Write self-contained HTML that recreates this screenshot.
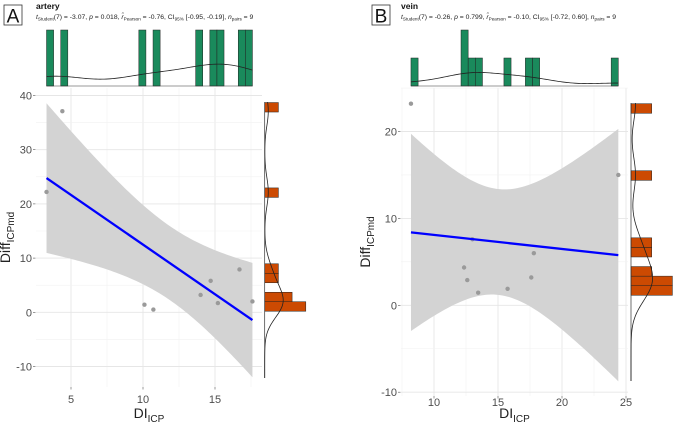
<!DOCTYPE html>
<html><head><meta charset="utf-8"><style>
body{margin:0;background:#fff;}
svg{display:block;font-family:"Liberation Sans",sans-serif;}
</style></head><body>
<svg id="chart" width="675" height="423" viewBox="0 0 675 423"></svg>
<script>
// ---- Panel A (artery) data ----
const arteryDI = [3.3, 4.4, 10.1, 10.72, 14.0, 14.7, 15.2, 16.7, 17.6];
const arteryDiff = [22.2, 37.1, 1.4, 0.5, 3.2, 5.8, 1.7, 7.9, 2.0];
const arteryXTicks = [5, 10, 15];
const arteryYTicks = [-10, 0, 10, 20, 30, 40];
const arteryTitle = "artery";
const arteryStats = ["-3.07", "0.018", "-0.76", "[-0.95, -0.19]", "9"];
// ---- Panel B (vein) data ----
const veinDI = [8.2, 24.4, 12.35, 12.6, 13.0, 13.45, 15.75, 17.6, 17.8];
const veinDiff = [23.2, 15.0, 4.35, 2.9, 7.6, 1.45, 1.9, 3.2, 6.0];
const veinXTicks = [10, 15, 20, 25];
const veinYTicks = [-10, 0, 10, 20];
const veinTitle = "vein";
const veinStats = ["-0.26", "0.799", "-0.10", "[-0.72, 0.60]", "9"];

const NS = "http://www.w3.org/2000/svg";
const svg = document.getElementById("chart");
function mk(tag, attrs, parent, name, inter) {
  const e = document.createElementNS(NS, tag);
  for (const k in attrs) e.setAttribute(k, attrs[k]);
  
  
  (parent || svg).appendChild(e);
  return e;
}
function kde(data, x) {
  const n = data.length, m = data.reduce((a, b) => a + b, 0) / n;
  const sd = Math.sqrt(data.reduce((a, b) => a + (b - m) ** 2, 0) / (n - 1));
  const s = data.slice().sort((a, b) => a - b);
  const q = p => { const h = (n - 1) * p, l = Math.floor(h); return s[l] + (h - l) * ((s[l + 1] ?? s[l]) - s[l]); };
  const iqr = q(0.75) - q(0.25);
  const bw = 0.9 * Math.min(sd, iqr / 1.34) * Math.pow(n, -0.2);
  let d = 0; for (const v of data) d += Math.exp(-0.5 * ((x - v) / bw) ** 2);
  return d / (n * bw * Math.sqrt(2 * Math.PI));
}
function binCounts(vals, orig, w, nb) {
  const c = {};
  for (const v of vals) { let k = Math.floor((v - orig) / w + 1e-9); if (k > nb - 1) k = nb - 1; if (k < 0) k = 0; c[k] = (c[k] || 0) + 1; }
  return c;
}
function panel(cfg) {
  const g = mk('g', {}, svg, cfg.name + '-panel', false);
  const X = v => cfg.x0px + (v - cfg.x0) * cfg.xs;
  const Y = v => cfg.y0px - v * cfg.ys;
  const L = cfg.left, R = cfg.right, T = cfg.top, B = cfg.bottom;
  const xv = cfg.xd, yv = cfg.yd, n = xv.length;
  const xinv = p => cfg.x0 + (p - cfg.x0px) / cfg.xs, yinv = p => (cfg.y0px - p) / cfg.ys;
  const xmin = xinv(L), xmax = xinv(R), ymin = yinv(B), ymax = yinv(T);
  for (let v = Math.ceil(xmin / 2.5) * 2.5; v <= xmax; v += 2.5) {
    const maj = Math.abs(v / 5 - Math.round(v / 5)) < 1e-6;
    mk('line', {x1: X(v), x2: X(v), y1: T, y2: B, stroke: maj ? '#e6e6e6' : '#f2f2f2', 'stroke-width': maj ? 0.9 : 0.6}, g, 'x-gridline', false);
  }
  for (let v = Math.ceil(ymin / 5) * 5; v <= ymax; v += 5) {
    const maj = Math.abs(v / 10 - Math.round(v / 10)) < 1e-6;
    mk('line', {x1: L, x2: R, y1: Y(v), y2: Y(v), stroke: maj ? '#e6e6e6' : '#f2f2f2', 'stroke-width': maj ? 0.9 : 0.6}, g, 'y-gridline', false);
  }
  const mx = xv.reduce((a, b) => a + b, 0) / n, my = yv.reduce((a, b) => a + b, 0) / n;
  let sxx = 0, sxy = 0; for (let i = 0; i < n; i++) { sxx += (xv[i] - mx) ** 2; sxy += (xv[i] - mx) * (yv[i] - my); }
  const b1 = sxy / sxx, b0 = my - b1 * mx;
  let sse = 0; for (let i = 0; i < n; i++) sse += (yv[i] - b0 - b1 * xv[i]) ** 2;
  const s = Math.sqrt(sse / (n - 2)), t = 2.3646;
  const lo = Math.min(...xv), hi = Math.max(...xv);
  let up = [], dn = [];
  for (let k = 0; k <= 80; k++) {
    const x = lo + (hi - lo) * k / 80, f = b0 + b1 * x, se = s * Math.sqrt(1 / n + (x - mx) ** 2 / sxx);
    up.push(X(x) + ',' + Y(f + t * se)); dn.unshift(X(x) + ',' + Y(f - t * se));
  }
  mk('polygon', {points: up.concat(dn).join(' '), fill: '#d3d3d3'}, g, 'confidence-band', false);
  for (let i = 0; i < n; i++) mk('circle', {cx: X(xv[i]), cy: Y(yv[i]), r: 2.2, fill: '#9a9a9a'}, g, 'data-point', true);
  mk('line', {x1: X(lo), y1: Y(b0 + b1 * lo), x2: X(hi), y2: Y(b0 + b1 * hi), stroke: '#0000ff', 'stroke-width': 2.3}, g, 'regression-line', false);
  for (const v of cfg.xt) {
    mk('line', {x1: X(v), x2: X(v), y1: B, y2: B + 2.5, stroke: '#555', 'stroke-width': 0.6}, g, 'x-tick', false);
    const tx = mk('text', {x: X(v), y: cfg.xly, 'font-size': 11, fill: '#4d4d4d', 'text-anchor': 'middle'}, g, 'x-tick-label', false); tx.textContent = v;
  }
  for (const v of cfg.yt) {
    mk('line', {x1: L - 3, x2: L - 0.5, y1: Y(v), y2: Y(v), stroke: '#555', 'stroke-width': 0.6}, g, 'y-tick', false);
    const ty = mk('text', {x: L - 4, y: Y(v) + 4, 'font-size': 11, fill: '#4d4d4d', 'text-anchor': 'end'}, g, 'y-tick-label', false); ty.textContent = v;
  }
  const xt = mk('text', {x: (L + R) / 2, y: 418, 'font-size': 14, fill: '#222', 'text-anchor': 'middle'}, g, 'x-axis-title', false);
  xt.innerHTML = 'DI<tspan font-size="10" dy="4">ICP</tspan>';
  const yt = mk('text', {x: 0, y: 0, 'font-size': 14, fill: '#222', 'text-anchor': 'middle', transform: `translate(${cfg.ytx},${(T + B) / 2}) rotate(-90)`}, g, 'y-axis-title', false);
  yt.innerHTML = 'Diff<tspan font-size="10" dy="4">ICPmd</tspan>';
  // top marginal histogram
  const tb = 86, th = 56, nbx = 29;
  const xbw = (hi - lo) / nbx;
  const cnt = binCounts(xv, lo, xbw, nbx);
  const maxc = Math.max(...Object.values(cnt));
  const dmax = maxc / (n * xbw);
  for (const k in cnt) {
    const h = cnt[k] / maxc * th;
    mk('rect', {x: X(lo + k * xbw), y: tb - h, width: xbw * cfg.xs, height: h, fill: '#1a8a5c', stroke: '#222', 'stroke-width': 0.5}, g, 'top-histogram-bar', false);
  }
  mk('line', {x1: X(lo), x2: X(hi), y1: tb, y2: tb, stroke: '#333', 'stroke-width': 0.6}, g, 'top-marginal-baseline', false);
  let pts = [];
  for (let k = 0; k <= 100; k++) { const x = lo + (hi - lo) * k / 100; pts.push(X(x) + ',' + (tb - kde(xv, x) / dmax * th)); }
  mk('polyline', {points: pts.join(' '), fill: 'none', stroke: '#222', 'stroke-width': 0.8}, g, 'top-density-curve', false);
  // right marginal histogram
  const rb = cfg.rbase, rw = cfg.rcount1;
  const rc = binCounts(yv, cfg.yorig, cfg.ybw, cfg.ynb);
  const rmax = Math.max(...Object.values(rc));
  for (const k in rc) {
    const y1 = Y(cfg.yorig + (+k + 1) * cfg.ybw), y2 = Y(cfg.yorig + (+k) * cfg.ybw);
    mk('rect', {x: rb, y: y1, width: rc[k] * rw, height: y2 - y1, fill: '#cc4a02', stroke: '#222', 'stroke-width': 0.5}, g, 'right-histogram-bar', false);
  }
  mk('line', {x1: rb, x2: rb, y1: cfg.rtop, y2: cfg.rbot, stroke: '#333', 'stroke-width': 0.7}, g, 'right-marginal-baseline', false);
  const rdmax = rmax / (n * cfg.ybw);
  pts = [];
  for (let k = 0; k <= 120; k++) { const py = cfg.rtop + (cfg.rbot - cfg.rtop) * k / 120, y = yinv(py); pts.push((rb + kde(yv, y) / rdmax * rmax * rw) + ',' + py); }
  mk('polyline', {points: pts.join(' '), fill: 'none', stroke: '#222', 'stroke-width': 0.8}, g, 'right-density-curve', false);
  // header
  mk('rect', {x: cfg.lbx, y: 5, width: 18, height: 20, fill: '#fff', stroke: '#333', 'stroke-width': 0.8}, g, 'panel-letter-box', false);
  const lt = mk('text', {x: cfg.lbx + 9, y: 22.5, 'font-size': 19, 'text-anchor': 'middle', fill: '#111'}, g, 'panel-letter', false); lt.textContent = cfg.letter;
  const tt = mk('text', {x: cfg.tx, y: 9, 'font-size': 8.5, 'font-weight': 'bold', fill: '#111'}, g, 'panel-title', false); tt.textContent = cfg.title;
  const st = cfg.stats;
  const sub = mk('text', {x: cfg.tx, y: 19, 'font-size': 6.8, fill: '#222'}, g, 'panel-subtitle', false);
  sub.innerHTML = `<tspan font-style="italic">t</tspan><tspan font-size="4.6" dy="1.5">Student</tspan><tspan dy="-1.5">(7) = ${st[0]}, </tspan><tspan font-style="italic">p</tspan><tspan> = ${st[1]}, </tspan><tspan font-style="italic">r̂</tspan><tspan font-size="4.6" dy="1.5">Pearson</tspan><tspan dy="-1.5"> = ${st[2]}, CI</tspan><tspan font-size="4.6" dy="1.5">95%</tspan><tspan dy="-1.5"> ${st[3]}, </tspan><tspan font-style="italic">n</tspan><tspan font-size="4.6" dy="1.5">pairs</tspan><tspan dy="-1.5"> = ${st[4]}</tspan>`;
}
panel({name: 'artery', letter: 'A', title: arteryTitle, stats: arteryStats, xd: arteryDI, yd: arteryDiff, xt: arteryXTicks, yt: arteryYTicks,
  x0: 5, x0px: 71, xs: 14.4, y0px: 312.3, ys: 5.42, left: 36, right: 262, top: 88, bottom: 387, ytx: 10, xly: 403,
  yorig: 0.2, ybw: 1.75, ynb: 100, rbase: 264.7, rcount1: 13.7, rtop: 102, rbot: 378, lbx: 4, tx: 36});
panel({name: 'vein', letter: 'B', title: veinTitle, stats: veinStats, xd: veinDI, yd: veinDiff, xt: veinXTicks, yt: veinYTicks,
  x0: 10, x0px: 434, xs: 12.8, y0px: 305.3, ys: 8.69, left: 401, right: 628, top: 88, bottom: 396, ytx: 370, xly: 406,
  yorig: 1.15, ybw: 1.1025, ynb: 20, rbase: 631, rcount1: 20.7, rtop: 103, rbot: 381, lbx: 372, tx: 401});
</script>
</body></html>
